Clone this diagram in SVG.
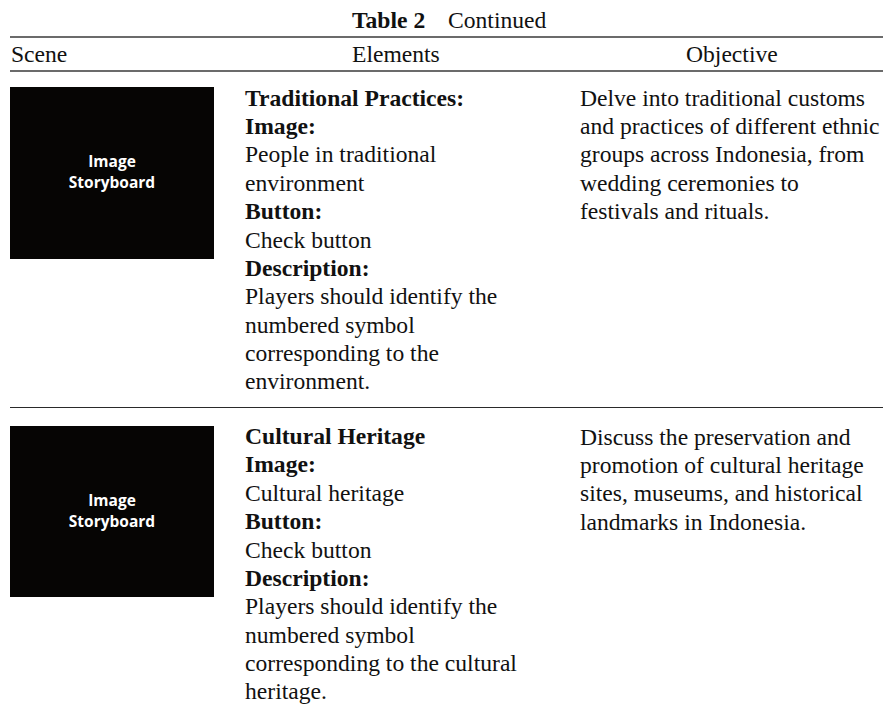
<svg xmlns="http://www.w3.org/2000/svg" width="886" height="713" viewBox="0 0 886 713">
<style>
.t{font-family:"Liberation Serif","Times New Roman",serif;font-size:23.6px;fill:#111}
.b{font-weight:bold}
.rule{stroke:#3a3a3a;stroke-width:1.6}
.rule2{stroke:#2a2a2a;stroke-width:1.2}
.box{fill:#060504}
.sb{font-family:"Open Sans","DejaVu Sans",sans-serif;font-weight:700;font-size:15.5px;fill:#fff;text-anchor:middle}
</style>
<rect width="886" height="713" fill="#fff"/>
<g id="title">
<text class="t b" x="352" y="28">Table 2</text>
<text class="t" x="448" y="28">Continued</text>
</g>
<g id="rules">
<line class="rule" x1="10" y1="37" x2="883" y2="37"/>
<line class="rule" x1="10" y1="71" x2="883" y2="71"/>
<line class="rule2" x1="10" y1="407.5" x2="883" y2="407.5"/>
</g>
<g id="header">
<text class="t" x="11" y="62">Scene</text>
<text class="t" x="352" y="62">Elements</text>
<text class="t" x="686" y="62">Objective</text>
</g>
<g id="row1-image">
<rect class="box" x="10" y="87" width="204" height="172"/>
<text class="sb" x="112" y="166.5">Image</text>
<text class="sb" x="112" y="188">Storyboard</text>
</g>
<g id="row1-elements">
<text class="t b" x="245" y="105.7">Traditional Practices:</text>
<text class="t b" x="245" y="134.1">Image:</text>
<text class="t" x="245" y="162.4">People in traditional</text>
<text class="t" x="245" y="190.8">environment</text>
<text class="t b" x="245" y="219.2">Button:</text>
<text class="t" x="245" y="247.5">Check button</text>
<text class="t b" x="245" y="275.9">Description:</text>
<text class="t" x="245" y="304.3">Players should identify the</text>
<text class="t" x="245" y="332.6">numbered symbol</text>
<text class="t" x="245" y="361">corresponding to the</text>
<text class="t" x="245" y="389.4">environment.</text>
</g>
<g id="row1-objective">
<text class="t" x="580" y="105.7">Delve into traditional customs</text>
<text class="t" x="580" y="134.1">and practices of different ethnic</text>
<text class="t" x="580" y="162.4">groups across Indonesia, from</text>
<text class="t" x="580" y="190.8">wedding ceremonies to</text>
<text class="t" x="580" y="219.2">festivals and rituals.</text>
</g>
<g id="row2-image">
<rect class="box" x="10" y="426" width="204" height="171"/>
<text class="sb" x="112" y="505.5">Image</text>
<text class="sb" x="112" y="527">Storyboard</text>
</g>
<g id="row2-elements">
<text class="t b" x="245" y="444">Cultural Heritage</text>
<text class="t b" x="245" y="472.4">Image:</text>
<text class="t" x="245" y="500.7">Cultural heritage</text>
<text class="t b" x="245" y="529.1">Button:</text>
<text class="t" x="245" y="557.5">Check button</text>
<text class="t b" x="245" y="585.8">Description:</text>
<text class="t" x="245" y="614.2">Players should identify the</text>
<text class="t" x="245" y="642.6">numbered symbol</text>
<text class="t" x="245" y="670.9">corresponding to the cultural</text>
<text class="t" x="245" y="699.3">heritage.</text>
</g>
<g id="row2-objective">
<text class="t" x="580" y="444.5">Discuss the preservation and</text>
<text class="t" x="580" y="472.9">promotion of cultural heritage</text>
<text class="t" x="580" y="501.2">sites, museums, and historical</text>
<text class="t" x="580" y="529.6">landmarks in Indonesia.</text>
</g>
<g id="connectors"/>
</svg>
